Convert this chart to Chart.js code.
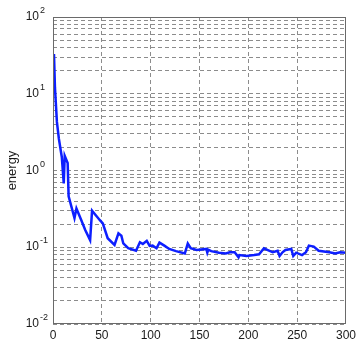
<!DOCTYPE html>
<html>
<head>
<meta charset="utf-8">
<script src="https://cdn.jsdelivr.net/npm/chart.js@4/dist/chart.umd.min.js"></script>
<style>
  html, body { margin: 0; padding: 0; background: #ffffff; }
  #wrap { width: 360px; height: 341px; position: relative; }
</style>
</head>
<body>
<div id="wrap"><canvas id="energyChart"></canvas></div>
<script>
// Energy per iteration
const iterations = [1, 2, 4, 6, 9, 11, 12, 15, 16, 22, 24, 29, 33, 38, 40, 48, 51, 56, 63, 67,
  70, 72, 77, 85, 89, 92, 96, 99, 102, 106, 109, 114, 119, 126, 135, 138, 141, 147, 157, 158,
  159, 162, 170, 177, 181, 186, 190, 191, 198, 206, 211, 216, 220, 225, 230, 232, 235, 238, 244, 246,
  249, 255, 259, 262, 267, 272, 283, 289, 294, 300];
const energy = [33, 12, 4.3, 2.6, 1.5, 0.68, 1.55, 1.25, 0.46, 0.24, 0.32, 0.225, 0.168, 0.124, 0.30, 0.225, 0.205, 0.131, 0.107, 0.152,
  0.141, 0.112, 0.097, 0.090, 0.116, 0.110, 0.121, 0.104, 0.105, 0.097, 0.115, 0.105, 0.095, 0.089, 0.083, 0.112, 0.097, 0.092, 0.095, 0.085,
  0.093, 0.089, 0.085, 0.083, 0.086, 0.086, 0.074, 0.079, 0.077, 0.079, 0.081, 0.097, 0.092, 0.086, 0.090, 0.077, 0.086, 0.092, 0.095, 0.077,
  0.085, 0.079, 0.086, 0.105, 0.102, 0.090, 0.086, 0.083, 0.086, 0.085];

// Axis ticks
const xTicks = [0, 50, 100, 150, 200, 250, 300];
const yDecades = [0.01, 0.1, 1, 10, 100];
const yExponents = ['-2', '-1', '0', '1', '2'];

const FONT = '"Liberation Sans", Arial, Helvetica, sans-serif';
const GRID_COLOR = '#8c8c8c';
const BOX_COLOR = '#6a6a6a';

// Log grid: 1..9 within every decade
const yGridValues = [];
for (let d = 0; d < yDecades.length - 1; d++) {
  for (let m = 1; m <= 9; m++) yGridValues.push(+(yDecades[d] * m).toPrecision(6));
}
yGridValues.push(yDecades[yDecades.length - 1]);

const points = iterations.map((x, i) => ({ x: x, y: energy[i] }));

// Box around the plot area and power-of-ten labels with superscript exponents
const axesDecor = {
  id: 'axesDecor',
  afterDraw(chart) {
    const { ctx, chartArea: a } = chart;
    const yScale = chart.scales.y;
    ctx.save();
    ctx.strokeStyle = BOX_COLOR;
    ctx.lineWidth = 1;
    ctx.setLineDash([]);
    ctx.strokeRect(Math.round(a.left) + 0.5, Math.round(a.top) + 0.5,
      Math.round(a.right - a.left) - 1, Math.round(a.bottom - a.top) - 1);

    ctx.fillStyle = '#1a1a1a';
    yDecades.forEach((v, i) => {
      const py = yScale.getPixelForValue(v);
      const baseRight = a.left - 14;
      ctx.font = '12px ' + FONT;
      ctx.textAlign = 'right';
      ctx.textBaseline = 'alphabetic';
      ctx.fillText('10', baseRight, py + 3);
      ctx.font = '9px ' + FONT;
      ctx.textAlign = 'left';
      ctx.fillText(yExponents[i], baseRight + 1, py - 4);
    });
    ctx.restore();
  }
};

new Chart(document.getElementById('energyChart'), {
  type: 'line',
  data: {
    datasets: [{
      data: points,
      borderColor: '#0d1fff',
      borderWidth: 2.5,
      pointRadius: 0,
      tension: 0,
      fill: false
    }]
  },
  options: {
    responsive: true,
    maintainAspectRatio: false,
    animation: false,
    events: [],
    layout: { padding: { top: 17, right: 13, left: 0, bottom: 0 } },
    plugins: { legend: { display: false }, tooltip: { enabled: false } },
    scales: {
      x: {
        type: 'linear',
        min: 0,
        max: 300,
        afterBuildTicks(scale) { scale.ticks = xTicks.map(v => ({ value: v })); },
        afterFit(scale) { scale.height = 17; },
        ticks: { color: '#1a1a1a', font: { family: FONT, size: 12 }, padding: 4, maxRotation: 0, autoSkip: false },
        grid: { color: GRID_COLOR, lineWidth: 1, drawTicks: false },
        border: { display: false, dash: [4, 3] }
      },
      y: {
        type: 'logarithmic',
        min: 0.01,
        max: 100,
        afterBuildTicks(scale) { scale.ticks = yGridValues.map(v => ({ value: v })); },
        afterFit(scale) { scale.width = 53; },
        ticks: { display: false },
        grid: { color: GRID_COLOR, lineWidth: 1, drawTicks: false },
        border: { display: false, dash: [4, 3] },
        title: { display: true, text: 'energy', color: '#1a1a1a', font: { family: FONT, size: 13 }, padding: { top: 5, bottom: 0 } }
      }
    }
  },
  plugins: [axesDecor]
});
</script>
</body>
</html>
